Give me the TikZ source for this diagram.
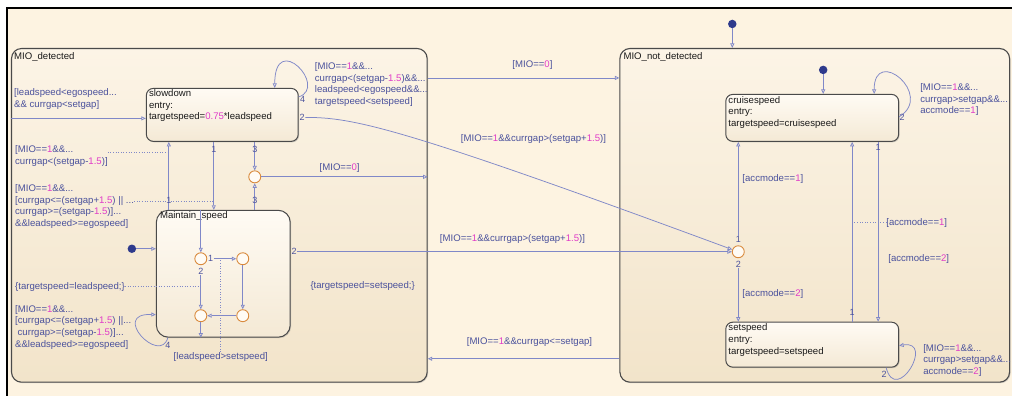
\documentclass[tikz,border=0pt]{standalone}
\usepackage{fontspec}
\setmainfont{Liberation Sans}
\usepackage{xcolor}
\usepackage{tikz}
\usetikzlibrary{arrows.meta,positioning,calc,shadows}
\definecolor{canvas}{HTML}{FDF3E1}
\definecolor{supertop}{HTML}{FCF4E6}
\definecolor{superbot}{HTML}{F2E4CA}
\definecolor{leaftop}{HTML}{FFFBF4}
\definecolor{leafbot}{HTML}{F4E9D5}
\definecolor{edgegray}{HTML}{4A4A4A}
\definecolor{translin}{HTML}{8088C8}
\definecolor{guardtxt}{HTML}{4A519C}
\definecolor{numpink}{HTML}{E03CC8}
\definecolor{juncorange}{HTML}{D98A3D}
\definecolor{dotblue}{HTML}{2E3A8C}
\newcommand{\mg}[1]{\textcolor{numpink}{#1}}

\begin{document}
\begin{tikzpicture}[x=1pt, y=-1pt,
  every node/.style={font=\fontsize{9.6}{11.6}\selectfont},
  superstate/.style={draw=edgegray, line width=1.1pt, rounded corners=10pt, top color=supertop, bottom color=superbot,
    drop shadow={shadow xshift=1pt, shadow yshift=-1pt, opacity=.35}, anchor=north west, inner sep=0pt},
  leafstate/.style={draw=edgegray, line width=1pt, rounded corners=7pt, top color=leaftop, bottom color=leafbot,
    drop shadow={shadow xshift=1pt, shadow yshift=-1pt, opacity=.35}, anchor=north west, inner sep=0pt},
  stext/.style={anchor=north west, align=left, inner sep=0pt, text=black!90},
  junc/.style={circle, draw=juncorange, line width=0.9pt, fill=leaftop, minimum size=12pt, inner sep=0pt},
  dflt/.style={circle, fill=dotblue, minimum size=8.5pt, inner sep=0pt},
  trans/.style={draw=translin, line width=0.75pt, -{Triangle[open, length=4.5pt, width=4pt]}},
  leader/.style={draw=translin, line width=0.6pt, dotted},
  guard/.style={text=guardtxt, align=left, inner sep=0pt},
  tnum/.style={text=guardtxt, inner sep=0.6pt, font=\fontsize{9}{10}\selectfont}]
  % canvas
  \fill[white] (0,0) rectangle (1013,396);
  \fill[canvas] (7,8) rectangle (1013,396);
  \draw[black, line width=2pt] (7,396) -- (7,8) -- (1013,8);
  \useasboundingbox (0,0) rectangle (1013,396);
  % states
  \node[superstate, minimum width=416pt, minimum height=334pt,
    label={[stext, xshift=3pt, yshift=-4pt]north west:{MIO\_detected}}] (mdet) at (11,48) {};
  \node[superstate, minimum width=390pt, minimum height=334pt,
    label={[stext, xshift=4pt, yshift=-4pt]north west:{MIO\_not\_detected}}] (mnot) at (620,48) {};
  \node[leafstate, minimum width=152pt, minimum height=53pt,
    label={[stext, xshift=3pt, yshift=-1.5pt]north west:{slowdown\\entry:\\targetspeed=\mg{0.75}*leadspeed}}] (slowdown) at (146,88) {};
  \node[leafstate, rounded corners=12pt, minimum width=134pt, minimum height=127pt,
    label={[stext, xshift=4pt, yshift=-2pt]north west:{Maintain\_speed}}] (mspeed) at (156,210) {};
  \node[leafstate, minimum width=173pt, minimum height=47pt,
    label={[stext, xshift=3pt, yshift=-2pt]north west:{cruisespeed\\entry:\\targetspeed=cruisespeed}}] (cruise) at (726,94) {};
  \node[leafstate, minimum width=173pt, minimum height=45pt,
    label={[stext, xshift=3pt, yshift=-2pt]north west:{setspeed\\entry:\\targetspeed=setspeed}}] (setsp) at (726,322) {};
  % junctions and default dots
  \node[junc] (jm) at (255,177) {};
  \foreach \n/\x/\y in {ja/201/259, jb/243/259, jc/201/316, jd/243/316}
    \node[junc] (\n) at (\x,\y) {};
  \node[junc] (jn) at (739,252) {};
  \node[dflt] (dtop) at (733,24) {};
  \node[dflt] (dcruise) at (824,70) {};
  \node[dflt] (dmaint) at (132,249) {};
  \draw[trans] (dtop) -- (dtop |- mnot.north);
  \draw[trans] (dcruise) -- (dcruise |- cruise.north);
  \draw[trans] (dmaint) -- (dmaint -| mspeed.west);
  % into slowdown
  \coordinate (sin) at ([yshift=-3.5pt]slowdown.west);
  \draw[trans] (sin -| mdet.west) -- (sin);
  \node[guard, anchor=north west] (gin) at (14,88.4) {[leadspeed<egospeed...\\\&\& currgap<setgap]};
  % slowdown self loop
  \draw[trans] ([yshift=-9pt]slowdown.north east) .. controls +(30,-10) and +(0,-58) .. ([xshift=-24pt]slowdown.north east);
  \node[tnum] (n4s) at (303,100) {4};
  \node[guard, anchor=north west] (gs4) at (315,62.4) {[MIO==\mg{1}\&\&...\\currgap<(setgap-\mg{1.5})\&\&...\\leadspeed<egospeed\&\&...\\targetspeed<setspeed]};
  % MIO_detected -> MIO_not_detected
  \coordinate (m0a) at ([yshift=-30pt]mdet.north east);
  \draw[trans] (m0a) -- (m0a -| mnot.west);
  \node[guard] (g0a) at (533,65) {[MIO==\mg{0}]};
  % slowdown -> junction
  \node[tnum, anchor=west] (n2s) at ([yshift=-2.5pt]slowdown.east) {2};
  \draw[trans] (n2s.east) .. controls +(48,0) and +(-333,-123) .. (jn.160);
  \node[guard] (g2s) at (534,139) {[MIO==\mg{1}\&\&currgap>(setgap+\mg{1.5})]};
  % slowdown <-> Maintain_speed
  \coordinate (d1) at ([xshift=68pt]slowdown.south west);
  \draw[trans] (d1) -- (d1 |- mspeed.north);
  \node[tnum] (n1d) at (214,150) {1};
  \coordinate (u1) at ([xshift=13pt]mspeed.north west);
  \draw[trans] (u1) -- (u1 |- slowdown.south);
  \node[tnum] (n1u) at (169,201) {1};
  \node[guard, anchor=north west] (gup) at (15,145.5) {[MIO==\mg{1}\&\&...\\currgap<(setgap-\mg{1.5})]};
  \draw[leader] ([yshift=-6.5pt]gup.north east) coordinate (lu) -- (lu -| u1);
  \node[guard, anchor=north west] (gdown) at (15,184.5) {[MIO==\mg{1}\&\&...\\{}[currgap<=(setgap+\mg{1.5}) || ...\\currgap>=(setgap-\mg{1.5})]...\\\&\&leadspeed>=egospeed]};
  \draw[leader] ([yshift=-17pt]gdown.north east) coordinate (ld) -- (ld -| d1);
  % junction between the two
  \draw[trans] (jm.north |- slowdown.south) -- (jm.north);
  \draw[trans] (jm.south |- mspeed.north) -- (jm.south);
  \draw[trans] (jm.east) -- (jm.east -| mdet.east);
  \node[tnum] (n3a) at (255,150) {3};
  \node[tnum] (n3b) at (255,201) {3};
  \node[guard] (g0b) at (340,168) {[MIO==\mg{0}]};
  % inside Maintain_speed
  \draw[trans] (ja.north |- mspeed.north) -- (ja.north);
  \node[tnum, anchor=west] (n1a) at (ja.east) {1};
  \draw[trans] (n1a.east) -- (jb.west);
  \node[tnum, anchor=north] (n2a) at ([yshift=-2pt]ja.south) {2};
  \draw[trans] (n2a.south) -- (jc.north);
  \draw[trans] (jb.south) -- (jd.north);
  \draw[trans] (jd.west) -- (jc.east);
  \draw[trans] (jc.south) -- (jc.south |- mspeed.south);
  \node[guard] (gls) at (221,357) {[leadspeed>setspeed]};
  \draw[leader] (gls.north) -- (gls.north |- jb.west);
  \node[guard, anchor=west] (gtl) at (15,287) {\{targetspeed=leadspeed;\}};
  \draw[leader] (gtl.east) -- (gtl.east -| ja.south);
  % Maintain_speed self loop
  \draw[trans] ([xshift=12pt]mspeed.south west) .. controls +(-8,28) and +(-46,-2) .. ([yshift=23pt]mspeed.south west);
  \node[tnum] (n4m) at (168,346) {4};
  \node[guard, anchor=north west] (gself) at (15,305.5) {[MIO==\mg{1}\&\&...\\{}[currgap<=(setgap+\mg{1.5}) ||...\\\hspace*{2.5pt}currgap>=(setgap-\mg{1.5})]...\\\&\&leadspeed>=egospeed]};
  % Maintain_speed -> junction
  \node[tnum, anchor=west] (n2m) at (mspeed.east |- jn.west) {2};
  \draw[trans] (n2m.east) -- (jn.west);
  \node[guard] (g2m) at (513,239) {[MIO==\mg{1}\&\&currgap>(setgap+\mg{1.5})]};
  \node[guard] (gts) at (363,286) {\{targetspeed=setspeed;\}};
  % MIO_not_detected -> MIO_detected
  \coordinate (mb) at ([yshift=24pt]mnot.south west);
  \draw[trans] (mb) -- (mb -| mdet.east);
  \node[guard] (gback) at (530,342) {[MIO==\mg{1}\&\&currgap<=setgap]};
  % junction in MIO_not_detected
  \node[tnum, above=2pt of jn] (n1j) {1};
  \draw[trans] (n1j.north) -- (n1j.north |- cruise.south);
  \node[tnum, below=2pt of jn] (n2j) {2};
  \draw[trans] (n2j.south) -- (n2j.south |- setsp.north);
  \node[guard, anchor=west] (ga1) at (743,179) {[accmode==\mg{1}]};
  \node[guard, anchor=west] (ga2) at (743,294) {[accmode==\mg{2}]};
  % cruisespeed <-> setspeed
  \coordinate (v1) at ([xshift=127pt]setsp.north west);
  \draw[trans] (v1) -- (v1 |- cruise.south);
  \node[tnum] (n1v) at (853,313) {1};
  \coordinate (v2) at ([xshift=153pt]cruise.south west);
  \draw[trans] (v2) -- (v2 |- setsp.north);
  \node[tnum] (n1w) at (879,148) {1};
  \node[guard, anchor=west] (gv1) at (887,223) {[accmode==\mg{1}]};
  \draw[leader] (gv1.west) -- (gv1.west -| v1);
  \node[guard, anchor=west] (gv2) at (889,259) {[accmode==\mg{2}]};
  % self loops
  \draw[trans] ([yshift=-23pt]cruise.north east) .. controls +(36,-22) and +(0,-49) .. ([xshift=-25pt]cruise.north east);
  \node[tnum] (n2c) at (903,117) {2};
  \node[guard, anchor=north west] (gcs) at (921,83.4) {[MIO==\mg{1}\&\&...\\currgap>setgap\&\&...\\accmode==\mg{1}]};
  \draw[trans] ([xshift=-13pt]setsp.south east) .. controls +(10,38) and +(36,-6) .. ([yshift=-24pt]setsp.north east);
  \node[tnum] (n2t) at (885,375) {2};
  \node[guard, anchor=north west] (gss) at (924,344.4) {[MIO==\mg{1}\&\&...\\currgap>setgap\&\&...\\accmode==\mg{2}]};
\end{tikzpicture}
\end{document}
